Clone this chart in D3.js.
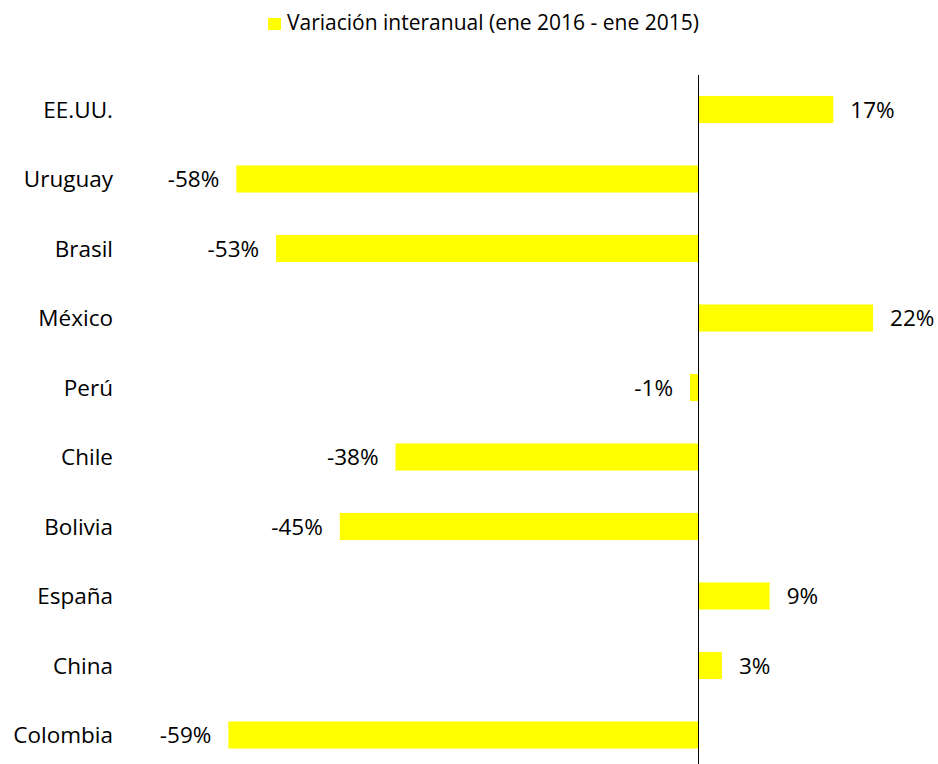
<!DOCTYPE html>
<html>
<head>
<meta charset="utf-8">
<script src="https://cdn.jsdelivr.net/npm/d3@7"></script>
<style>
  body { margin: 0; background: #fff; }
  text { font-family: "Open Sans", sans-serif; fill: #000; }
</style>
</head>
<body>
<div id="chart"></div>
<script>
// data
const countries = ["EE.UU.", "Uruguay", "Brasil", "México", "Perú", "Chile", "Bolivia", "España", "China", "Colombia"];
const variation = [17, -58, -53, 22, -1, -38, -45, 9, 3, -59];
const seriesName = "Variación interanual (ene 2016 - ene 2015)";

const width = 938, height = 764;
const barColor = "#ffff00";

const svg = d3.select("#chart")
    .append("svg")
    .attr("width", width)
    .attr("height", height);

// x scale: zero at 698px, ~7.96px per percent
const x = d3.scaleLinear()
    .domain([-60, 30])
    .range([698 - 60 * 7.96, 698 + 30 * 7.96]);

const y = d3.scaleBand()
    .domain(countries)
    .range([74.75, 769.75])
    .paddingInner(0.61)
    .paddingOuter(0.305);

// bars
svg.append("g")
    .selectAll("rect")
    .data(countries)
    .enter()
    .append("rect")
    .attr("x", (d, i) => x(Math.min(0, variation[i])))
    .attr("y", d => y(d))
    .attr("width", (d, i) => Math.abs(x(variation[i]) - x(0)))
    .attr("height", y.bandwidth())
    .style("fill", barColor);

// zero axis line
svg.append("line")
    .attr("x1", x(0) + 0.5)
    .attr("x2", x(0) + 0.5)
    .attr("y1", 75)
    .attr("y2", height)
    .style("stroke", "black")
    .style("stroke-width", 1);

// category labels
svg.append("g")
    .selectAll("text")
    .data(countries)
    .enter()
    .append("text")
    .attr("x", 113)
    .attr("y", d => y(d) + y.bandwidth() / 2)
    .attr("dy", "0.36em")
    .attr("text-anchor", "end")
    .style("font-size", "22.5px")
    .text(d => d);

// value labels
svg.append("g")
    .selectAll("text")
    .data(countries)
    .enter()
    .append("text")
    .attr("x", (d, i) => variation[i] >= 0 ? x(variation[i]) + 17 : x(variation[i]) - 17)
    .attr("y", d => y(d) + y.bandwidth() / 2)
    .attr("dy", "0.36em")
    .attr("text-anchor", (d, i) => variation[i] >= 0 ? "start" : "end")
    .style("font-size", "22.5px")
    .text((d, i) => variation[i] + "%");

// legend
const legend = svg.append("g");
legend.append("rect")
    .attr("x", 268)
    .attr("y", 18)
    .attr("width", 13)
    .attr("height", 12)
    .style("fill", barColor);
legend.append("text")
    .attr("x", 287)
    .attr("y", 29.5)
    .style("font-size", "21px")
    .text(seriesName);
</script>
</body>
</html>
